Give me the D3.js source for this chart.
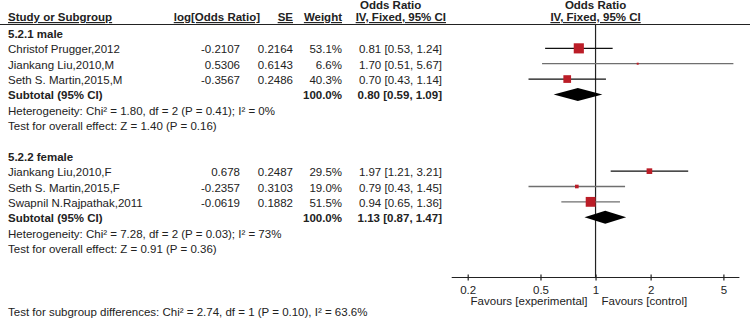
<!doctype html>
<html lang="en">
<head>
  <meta charset="utf-8">
  <title>Forest plot</title>
  <style>
    body { margin: 0; background: #fff; }
    svg text { font-family: "Liberation Sans", Arial, sans-serif; font-size: 11.5px; fill: #222; }
    .b { font-weight: bold; }
    .u { text-decoration: underline; }
  </style>
</head>
<body>
  <script src="https://cdn.jsdelivr.net/npm/d3@7"></script>
  <svg width="750" height="319"></svg>
  <script>
    // study rows
    var studies = ["Christof Prugger,2012", "Jiankang Liu,2010,M", "Seth S. Martin,2015,M",
                   "Jiankang Liu,2010,F", "Seth S. Martin,2015,F", "Swapnil N.Rajpathak,2011"];
    var studyGroup = [0, 0, 0, 1, 1, 1];
    var logOR = ["-0.2107", "0.5306", "-0.3567", "0.678", "-0.2357", "-0.0619"];
    var seVals = ["0.2164", "0.6143", "0.2486", "0.2487", "0.3103", "0.1882"];
    var weights = [53.1, 6.6, 40.3, 29.5, 19.0, 51.5];
    var orVals = [0.81, 1.70, 0.70, 1.97, 0.79, 0.94];
    var lower = [0.53, 0.51, 0.43, 1.21, 0.43, 0.65];
    var upper = [1.24, 5.67, 1.14, 3.21, 1.45, 1.36];
    var lineGrey = [false, true, false, false, true, true];

    // subgroups
    var groups = ["5.2.1 male", "5.2.2 female"];
    var subOR = [0.80, 1.13];
    var subLo = [0.59, 0.87];
    var subHi = [1.09, 1.47];
    var hetText = ["Heterogeneity: Chi² = 1.80, df = 2 (P = 0.41); I² = 0%",
                   "Heterogeneity: Chi² = 7.28, df = 2 (P = 0.03); I² = 73%"];
    var effectText = ["Test for overall effect: Z = 1.40 (P = 0.16)",
                      "Test for overall effect: Z = 0.91 (P = 0.36)"];
    var subgroupDiff = "Test for subgroup differences: Chi² = 2.74, df = 1 (P = 0.10), I² = 63.6%";

    var ticks = [0.2, 0.5, 1, 2, 5];

    var svg = d3.select("svg");
    var f2 = d3.format(".2f");
    var ciText = (o, l, h) => f2(o) + " [" + f2(l) + ", " + f2(h) + "]";

    var x = d3.scaleLog().domain([0.2, 5]).range([467.7, 723.4]);
    var rowY = d3.scaleLinear().domain([0, 1]).range([34, 49.35]); // row index -> text centre
    var sq = d3.scaleLinear().domain([0, 55]).range([0, 10.5]);

    // header
    svg.append("text").attr("class", "b").attr("x", 360).attr("y", 5).attr("dy", "0.35em").text("Odds Ratio");
    svg.append("text").attr("class", "b").attr("x", x(1)).attr("y", 5).attr("dy", "0.35em")
      .attr("text-anchor", "middle").text("Odds Ratio");
    var heads = [
      {t: "Study or Subgroup", x: 8, a: "start"},
      {t: "log[Odds Ratio]", x: 260, a: "end"},
      {t: "SE", x: 293, a: "end"},
      {t: "Weight", x: 342, a: "end"},
      {t: "IV, Fixed, 95% CI", x: 446, a: "end"},
      {t: "IV, Fixed, 95% CI", x: x(1), a: "middle"}
    ];
    svg.selectAll(".head").data(heads).enter().append("text")
      .attr("class", "head b u")
      .attr("x", d => d.x).attr("y", 17).attr("dy", "0.35em")
      .attr("text-anchor", d => d.a).text(d => d.t);
    svg.append("line").attr("x1", 0).attr("x2", 750).attr("y1", 24.5).attr("y2", 24.5)
      .style("stroke", "#222").style("stroke-width", 1);

    // vertical line of no effect
    svg.append("line").attr("x1", x(1)).attr("x2", x(1)).attr("y1", 24.5).attr("y2", 277.5)
      .style("stroke", "#222").style("stroke-width", 1.2);

    function txt(t, xx, row, anchor, bold) {
      svg.append("text").attr("class", bold ? "b" : null)
        .attr("x", xx).attr("y", rowY(row)).attr("dy", "0.35em")
        .attr("text-anchor", anchor).text(t);
    }

    groups.forEach((g, gi) => {
      var base = gi * 8;
      txt(g, 8, base, "start", true);
      var idx = d3.range(studies.length).filter(i => studyGroup[i] === gi);
      idx.forEach((i, k) => {
        var r = base + 1 + k;
        txt(studies[i], 8, r, "start");
        txt(logOR[i], 240, r, "end");
        txt(seVals[i], 293, r, "end");
        txt(weights[i].toFixed(1) + "%", 342, r, "end");
        txt(ciText(orVals[i], lower[i], upper[i]), 442, r, "end");
        var cy = rowY(r) - 1;
        svg.append("line").attr("x1", x(lower[i])).attr("x2", x(upper[i]))
          .attr("y1", cy).attr("y2", cy)
          .style("stroke", lineGrey[i] ? "#6f6f6f" : "#111").style("stroke-width", 1.3);
        var s = Math.max(2, sq(weights[i]));
        svg.append("rect").attr("x", x(orVals[i]) - s / 2).attr("y", cy - s / 2)
          .attr("width", s).attr("height", s).style("fill", "#bb1d27");
      });
      var sr = base + 4;
      txt("Subtotal (95% CI)", 8, sr, "start", true);
      txt("100.0%", 342, sr, "end", true);
      txt(ciText(subOR[gi], subLo[gi], subHi[gi]), 442, sr, "end", true);
      var dy = rowY(sr) - 1;
      var pts = [[x(subLo[gi]), dy], [x(subOR[gi]), dy - 6.5], [x(subHi[gi]), dy], [x(subOR[gi]), dy + 6.5]];
      svg.append("path").attr("d", d3.line()(pts) + "Z").style("fill", "#000");
      txt(hetText[gi], 8, sr + 1, "start");
      txt(effectText[gi], 8, sr + 2, "start");
    });

    // axis
    var axisY = 277.5;
    svg.append("line").attr("x1", x(0.2) - 16).attr("x2", x(5) + 16)
      .attr("y1", axisY).attr("y2", axisY).style("stroke", "#222").style("stroke-width", 1.2);
    var ax = svg.append("g").attr("transform", "translate(0," + axisY + ")")
      .call(d3.axisBottom(x).tickValues(ticks).tickFormat(d3.format("")).tickSize(3).tickSizeOuter(0));
    ax.select(".domain").remove();
    ax.selectAll(".tick line").attr("y1", -3).attr("y2", 3).style("stroke", "#222").style("stroke-width", 1.2);
    ax.selectAll(".tick text").attr("y", 8).style("font-family", null).style("font-size", null).attr("fill", null);
    ax.attr("font-family", null).attr("font-size", null);

    svg.append("text").attr("x", x(1) - 8).attr("y", 301).attr("dy", "0.35em")
      .attr("text-anchor", "end").text("Favours [experimental]");
    svg.append("text").attr("x", x(1) + 6).attr("y", 301).attr("dy", "0.35em")
      .text("Favours [control]");

    svg.append("text").attr("x", 8).attr("y", 311.5).attr("dy", "0.35em").text(subgroupDiff);
  </script>
</body>
</html>
